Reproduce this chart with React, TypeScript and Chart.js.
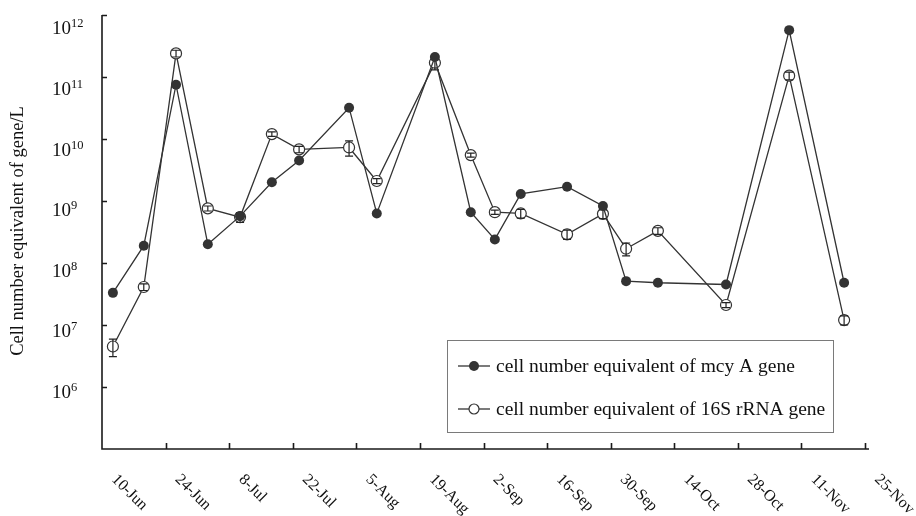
import React, { useEffect, useRef } from "react";
import { Chart, registerables } from "chart.js";

Chart.register(...registerables);

// ---- data ----
const tickLabels = ["10-Jun", "24-Jun", "8-Jul", "22-Jul", "5-Aug", "19-Aug", "2-Sep", "16-Sep", "30-Sep", "14-Oct", "28-Oct", "11-Nov", "25-Nov"];
const tickStepDays = 14;
// sampling days, counted from 10-Jun
const sampleDays = [2.4, 9.2, 16.3, 23.3, 30.4, 37.4, 43.4, 54.4, 60.5, 73.3, 81.2, 86.5, 92.2, 102.4, 110.3, 115.4, 122.4, 137.4, 151.3, 163.4];
const mcyA = [3.3e7, 1.9e8, 7.5e10, 2.0e8, 5.7e8, 2.0e9, 4.5e9, 3.2e10, 6.3e8, 2.1e11, 6.6e8, 2.4e8, 1.3e9, 1.7e9, 8.3e8, 5.1e7, 4.8e7, 4.5e7, 5.7e11, 4.8e7];
const rRNA16S = [4.5e6, 4.1e7, 2.4e11, 7.6e8, 5.5e8, 1.2e10, 6.8e9, 7.3e9, 2.1e9, 1.7e11, 5.5e9, 6.6e8, 6.3e8, 2.9e8, 6.2e8, 1.7e8, 3.3e8, 2.1e7, 1.05e11, 1.2e7];
const rRNA16SErr = [1.4e6, 0.5e7, 0.3e11, 0.7e8, 1.0e8, 0.1e10, 0.8e9, 2.0e9, 0.2e9, 4.0e10, 0.4e9, 0.5e8, 1.0e8, 0.5e8, 1.0e8, 0.4e8, 0.4e8, 0.2e7, 0.15e11, 0.2e7];
const yTickExponents = [6, 7, 8, 9, 10, 11, 12];
const yMinExp = 5;
const yMaxExp = 12;
const yTitle = "Cell number equivalent of gene/L";
const legendLabels = ["cell number equivalent of mcy A gene", "cell number equivalent of 16S rRNA gene"];

const FONT = '"Liberation Serif", "Times New Roman", serif';
const INK = "#333333";

const errorBarPlugin = {
  id: "errorBars",
  afterDatasetDraw(chart: any, args: any) {
    if (args.index !== 1) return;
    const { ctx, scales } = chart;
    const x = scales.x;
    const y = scales.y;
    ctx.save();
    ctx.strokeStyle = "#222";
    ctx.lineWidth = 1.2;
    ctx.beginPath();
    sampleDays.forEach((d, i) => {
      const px = x.getPixelForValue(d);
      const top = y.getPixelForValue(rRNA16S[i] + rRNA16SErr[i]);
      const bot = y.getPixelForValue(Math.max(rRNA16S[i] - rRNA16SErr[i], 1));
      ctx.moveTo(px, top);
      ctx.lineTo(px, bot);
      ctx.moveTo(px - 4, top);
      ctx.lineTo(px + 4, top);
      ctx.moveTo(px - 4, bot);
      ctx.lineTo(px + 4, bot);
    });
    ctx.stroke();
    ctx.restore();
  },
};

const axesPlugin = {
  id: "customAxes",
  beforeDatasetsDraw(chart: any) {
    const { ctx, scales } = chart;
    const x = scales.x;
    const y = scales.y;
    const left = x.getPixelForValue(0);
    const right = x.getPixelForValue((tickLabels.length - 1) * tickStepDays);
    const bottom = y.getPixelForValue(Math.pow(10, yMinExp));
    const top = y.getPixelForValue(Math.pow(10, yMaxExp));
    ctx.save();
    ctx.strokeStyle = "#1a1a1a";
    ctx.lineWidth = 1.6;
    ctx.beginPath();
    ctx.moveTo(left, top);
    ctx.lineTo(left, bottom);
    ctx.lineTo(right + 4, bottom);
    yTickExponents.forEach((e) => {
      const py = Math.round(y.getPixelForValue(Math.pow(10, e))) + 0.5;
      ctx.moveTo(left, py);
      ctx.lineTo(left + 5, py);
    });
    tickLabels.forEach((_, i) => {
      if (i === 0) return;
      const px = Math.round(x.getPixelForValue(i * tickStepDays)) + 0.5;
      ctx.moveTo(px, bottom);
      ctx.lineTo(px, bottom - 6);
    });
    ctx.stroke();

    // y tick labels 10^n
    ctx.fillStyle = "#111";
    yTickExponents.forEach((e) => {
      const py = y.getPixelForValue(Math.pow(10, e)) + 1 + (e - 6) * 1.4;
      ctx.font = `19px ${FONT}`;
      ctx.textAlign = "right";
      ctx.textBaseline = "middle";
      ctx.fillText("10", left - 31, py + 5);
      ctx.font = `12.5px ${FONT}`;
      ctx.textAlign = "left";
      ctx.textBaseline = "alphabetic";
      ctx.fillText(String(e), left - 31, py + 3);
    });

    // x tick labels (rotated, reading downwards)
    ctx.font = `16px ${FONT}`;
    ctx.textAlign = "left";
    ctx.textBaseline = "middle";
    tickLabels.forEach((lab, i) => {
      const px = x.getPixelForValue(i * tickStepDays);
      ctx.save();
      ctx.translate(px + 12, bottom + 28);
      ctx.rotate(Math.PI / 4);
      ctx.fillText(lab, 0, 0);
      ctx.restore();
    });

    // y title
    ctx.save();
    ctx.font = `18.5px ${FONT}`;
    ctx.textAlign = "center";
    ctx.textBaseline = "middle";
    ctx.translate(18, 231);
    ctx.rotate(-Math.PI / 2);
    ctx.fillText(yTitle, 0, 0);
    ctx.restore();
    ctx.restore();
  },
  afterDraw(chart: any) {
    const { ctx } = chart;
    ctx.save();
    // legend box
    ctx.strokeStyle = "#7a7a7a";
    ctx.lineWidth = 1;
    ctx.strokeRect(447.5, 340.5, 386, 92);
    const rows = [366, 409];
    rows.forEach((ry, i) => {
      ctx.strokeStyle = INK;
      ctx.lineWidth = 1.3;
      ctx.beginPath();
      ctx.moveTo(458, ry);
      ctx.lineTo(490, ry);
      ctx.stroke();
      ctx.beginPath();
      ctx.arc(474, ry, 5, 0, Math.PI * 2);
      if (i === 0) {
        ctx.fillStyle = INK;
        ctx.fill();
      } else {
        ctx.fillStyle = "#fff";
        ctx.fill();
        ctx.lineWidth = 1.2;
        ctx.stroke();
      }
      ctx.fillStyle = "#111";
      ctx.font = `19.5px ${FONT}`;
      ctx.textAlign = "left";
      ctx.textBaseline = "middle";
      ctx.fillText(legendLabels[i], 496, ry + 1);
    });
    ctx.restore();
  },
};

export default function App() {
  const ref = useRef<HTMLCanvasElement | null>(null);
  useEffect(() => {
    if (!ref.current) return;
    const chart = new Chart(ref.current, {
      type: "line",
      data: {
        datasets: [
          {
            label: legendLabels[0],
            data: sampleDays.map((d, i) => ({ x: d, y: mcyA[i] })),
            borderColor: INK,
            borderWidth: 1.3,
            pointRadius: 5,
            pointBackgroundColor: INK,
            pointBorderColor: INK,
            pointBorderWidth: 0,
            tension: 0,
          },
          {
            label: legendLabels[1],
            data: sampleDays.map((d, i) => ({ x: d, y: rRNA16S[i] })),
            borderColor: INK,
            borderWidth: 1.3,
            pointRadius: 5.5,
            pointBackgroundColor: "#ffffff",
            pointBorderColor: INK,
            pointBorderWidth: 1.2,
            tension: 0,
          },
        ],
      },
      options: {
        responsive: false,
        animation: false,
        devicePixelRatio: 1,
        layout: { padding: { left: 102, right: 51, top: 15, bottom: 67 } },
        plugins: { legend: { display: false }, tooltip: { enabled: false } },
        scales: {
          x: { type: "linear", display: false, min: 0, max: (tickLabels.length - 1) * tickStepDays },
          y: { type: "logarithmic", display: false, min: Math.pow(10, yMinExp), max: Math.pow(10, yMaxExp) },
        },
      },
      plugins: [axesPlugin, errorBarPlugin],
    });
    return () => chart.destroy();
  }, []);
  return (
    <div style={{ position: "absolute", left: 0, top: 0, width: 916, height: 516, background: "#fff" }}>
      <canvas ref={ref} width={916} height={516} />
    </div>
  );
}
